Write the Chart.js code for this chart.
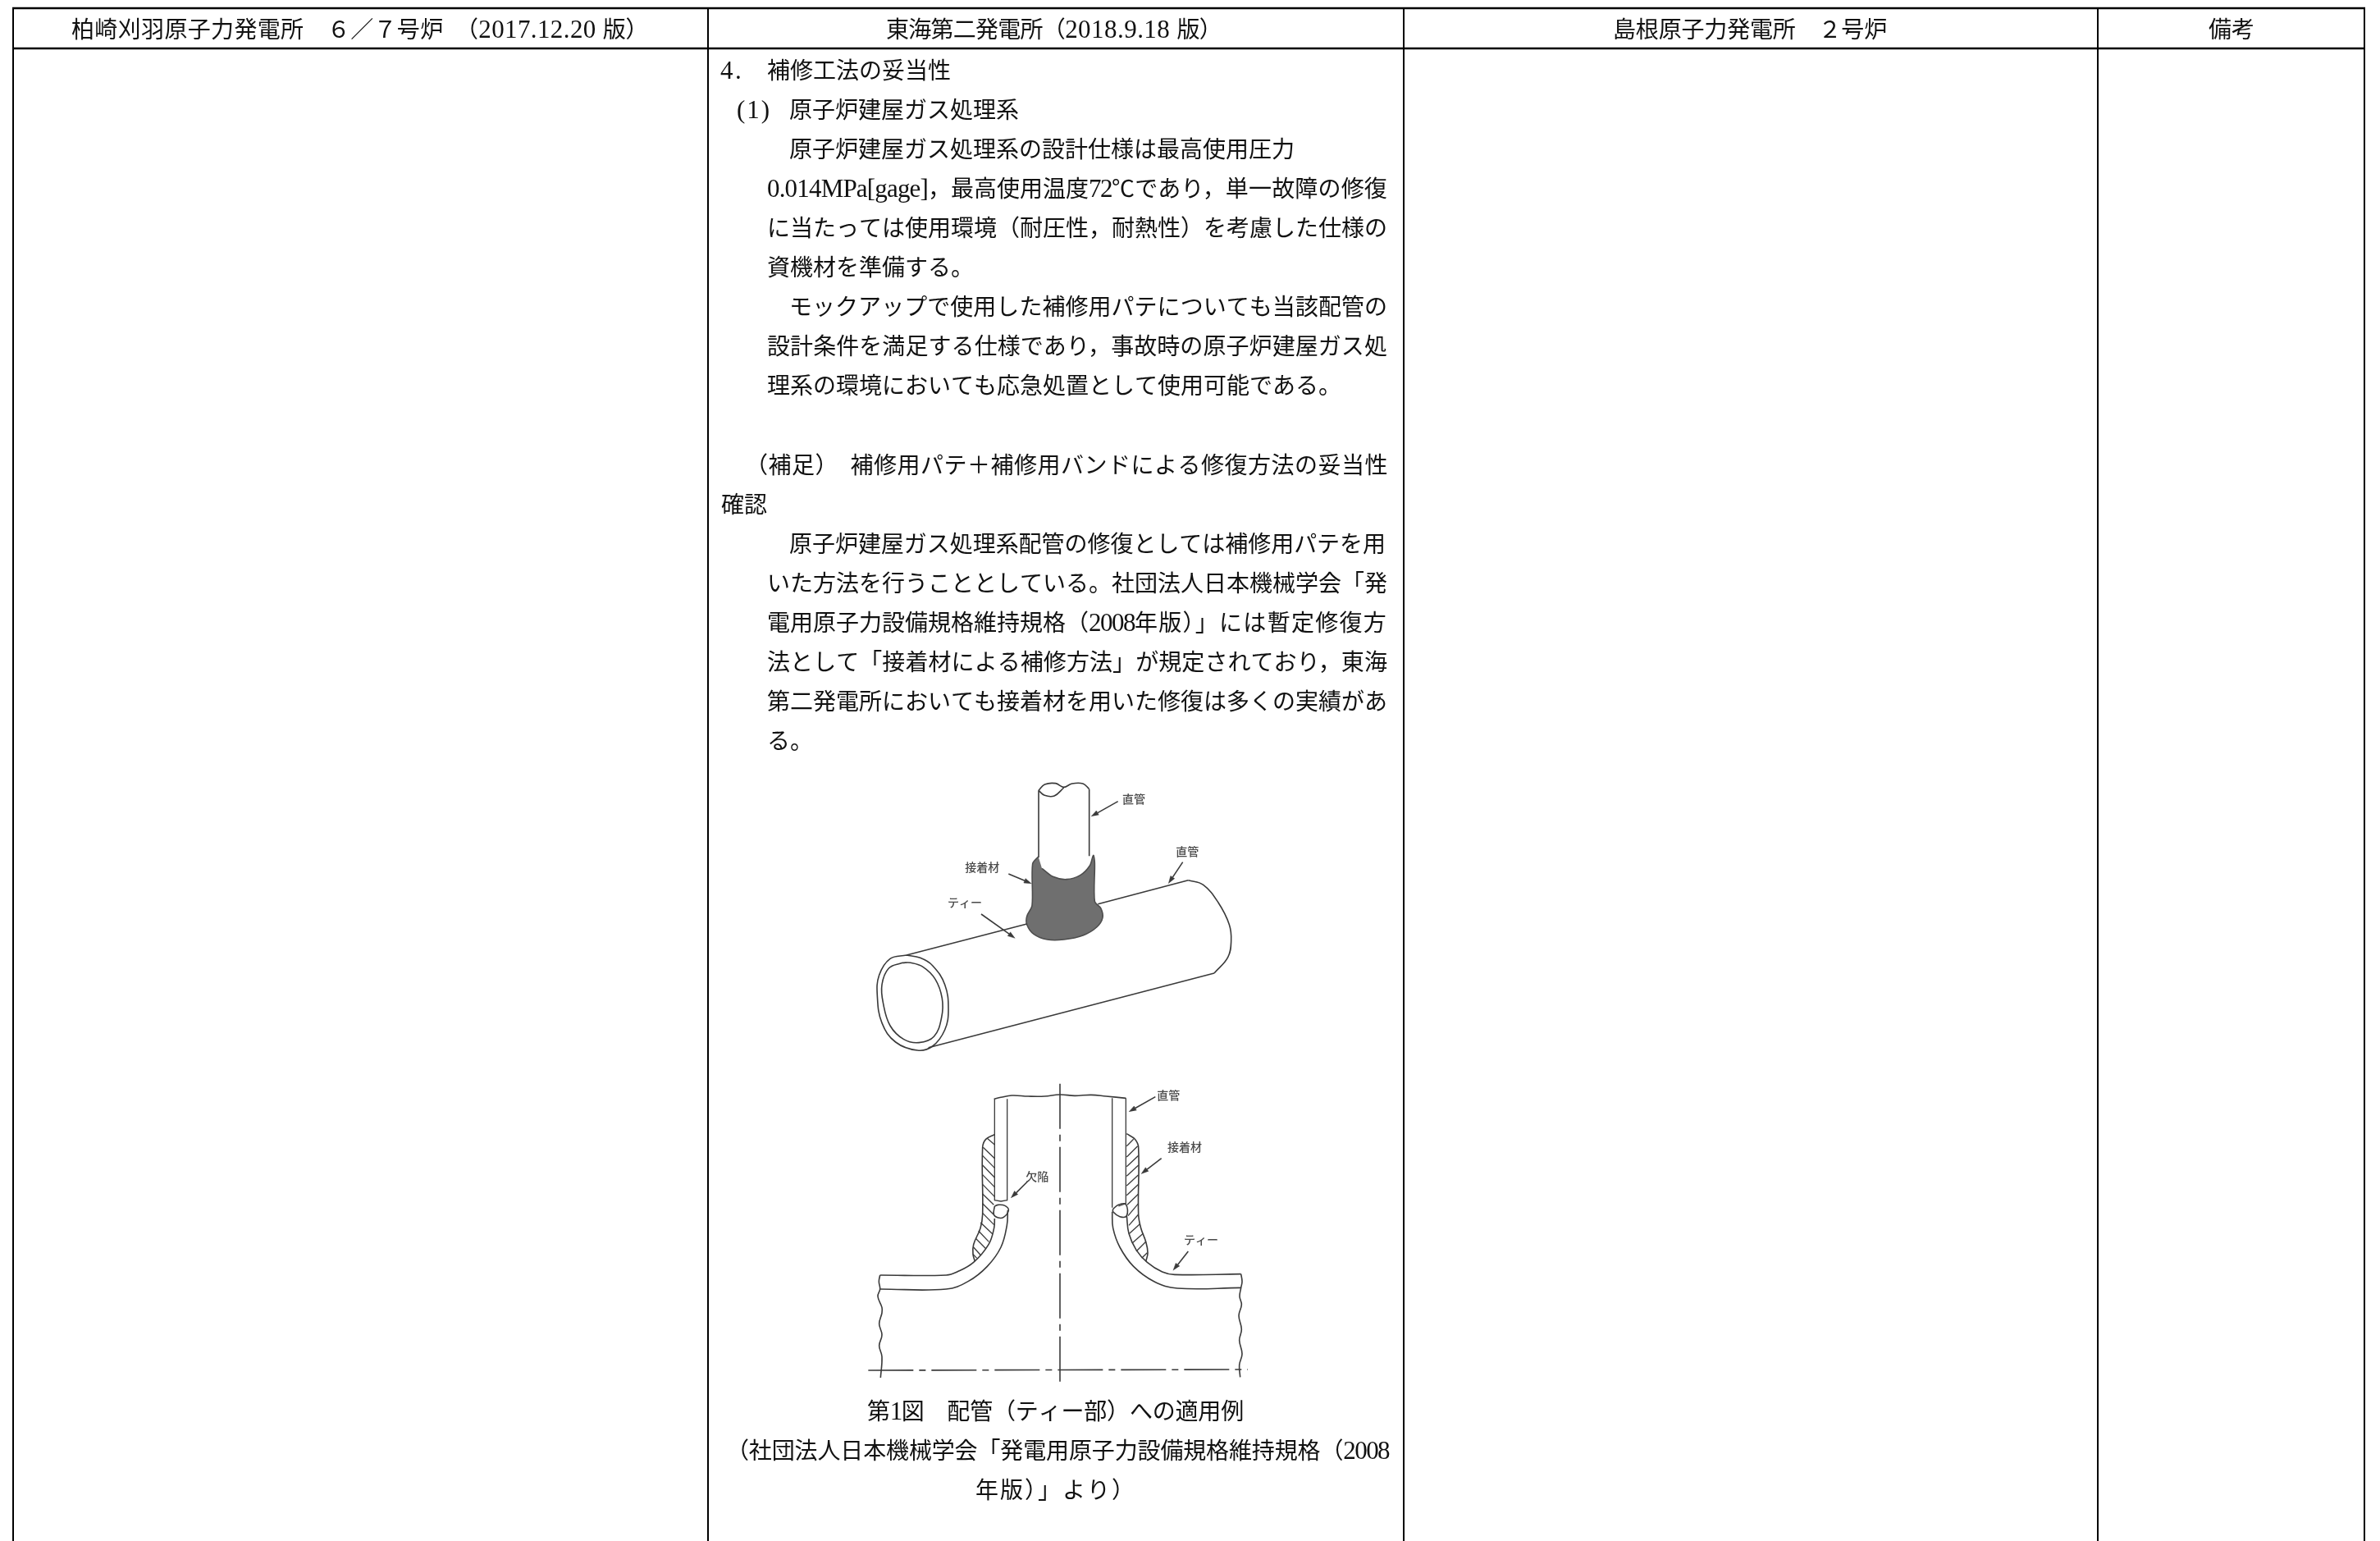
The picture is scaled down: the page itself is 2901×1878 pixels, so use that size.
<!DOCTYPE html>
<html lang="ja">
<head>
    <meta charset="UTF-8">
    <title>Chart</title>
    <style>
        html, body { margin: 0; background: #fff; }
        canvas { display: block; }
    </style>
</head>
<body>
    <canvas id="myChart" width="2901" height="1878"></canvas>

    <script src="https://cdn.jsdelivr.net/npm/chart.js@4"></script>
    <script>
        // table
        let headerLabels = ['柏崎刈羽原子力発電所　６／７号炉　（2017.12.20 版）', '東海第二発電所（2018.9.18 版）', '島根原子力発電所　２号炉', '備考'];
        let headerFrom = [87, 1080, 1966, 2692];
        let headerTo = [790, 1489, 2300, 2748];
        let columnEdges = [16, 863, 1711, 2557, 2882];
        let ruleRows = [10, 59];

        // body text: string, line number, left edge, right edge when the line is justified
        let bodyText = ['4.', '補修工法の妥当性', '(1)', '原子炉建屋ガス処理系',
            '原子炉建屋ガス処理系の設計仕様は最高使用圧力',
            '0.014MPa[gage]，最高使用温度72℃であり，単一故障の修復',
            'に当たっては使用環境（耐圧性，耐熱性）を考慮した仕様の',
            '資機材を準備する。',
            'モックアップで使用した補修用パテについても当該配管の',
            '設計条件を満足する仕様であり，事故時の原子炉建屋ガス処',
            '理系の環境においても応急処置として使用可能である。',
            '（補足）　補修用パテ＋補修用バンドによる修復方法の妥当性',
            '確認',
            '原子炉建屋ガス処理系配管の修復としては補修用パテを用',
            'いた方法を行うこととしている。社団法人日本機械学会「発',
            '電用原子力設備規格維持規格（2008年版）」には暫定修復方',
            '法として「接着材による補修方法」が規定されており，東海',
            '第二発電所においても接着材を用いた修復は多くの実績があ',
            'る。'];
        let bodyRow = [0, 0, 1, 1, 2, 3, 4, 5, 6, 7, 8, 10, 11, 12, 13, 14, 15, 16, 17];
        let bodyFrom = [878, 935, 898, 962, 962, 935, 935, 935, 962, 935, 935, 908, 879, 962, 935, 935, 935, 935, 935];
        let bodyTo = [0, 0, 0, 0, 0, 1691, 1691, 0, 1691, 1691, 0, 1692, 0, 1689, 1691, 1691, 1691, 1691, 0];

        let captionText = ['第1図　配管（ティー部）への適用例', '（社団法人日本機械学会「発電用原子力設備規格維持規格（2008', '年版）」より）'];
        let captionFrom = [1057, 885, 1189];
        let captionTo = [1516, 1693, 0];
        let captionY = [1721, 1769, 1817];

        let pipeLeft = [[738, 100], [738, 345]];
        let pipeRight = [[923, 95], [923, 340]];
        let pipeTop = [[738, 100], [760, 78], [800, 74], [830, 88], [860, 75], [900, 75], [923, 95]];
        let pipeTopFront = [[738, 100], [760, 118], [795, 120], [830, 90]];
        let adhesive = [[737, 342], [716, 368], [714, 520], [695, 560], [695, 590], [720, 625], [770, 645], [830, 645], [900, 630], [950, 600], [972, 565], [965, 530], [943, 505], [943, 365], [938, 337], [925, 375], [890, 410], [840, 425], [790, 415], [750, 385]];
        let teeTopLeft = [[255, 702], [695, 588]];
        let teeTopRight = [[955, 515], [1285, 428]];
        let teeEnd = [[1285, 428], [1340, 445], [1395, 510], [1435, 590], [1442, 650], [1430, 710], [1380, 768]];
        let teeBottom = [[1380, 768], [335, 1040]];
        let ringOuter = [[255, 702], [195, 715], [155, 775], [148, 850], [165, 950], [215, 1020], [295, 1050], [350, 1035], [395, 975], [408, 900], [395, 810], [350, 740], [305, 712], [255, 702]];
        let ringInner = [[240, 730], [190, 750], [165, 810], [170, 880], [195, 960], [245, 1010], [300, 1022], [355, 1000], [383, 930], [385, 860], [360, 790], [315, 745], [270, 730], [240, 730]];
        let upperArrows = [[[1028, 140], [930, 195]], [[1265, 362], [1213, 440]], [[628, 405], [712, 440]], [[528, 552], [652, 640]]];
        let upperLabels = ['直管', '直管', '接着材', 'ティー'];
        let upperLabelAt = [[1086, 132], [1282, 322], [532, 380], [468, 508]];

        // lower drawing, same kind of crop with its corner at 1020,1300
        let stubTop = [[575, 118], [600, 112], [640, 105], [700, 108], [760, 108], [815, 102], [870, 106], [930, 103], [985, 108], [1057, 115]];
        let wallsLeft = [[[577, 118], [577, 490]], [[623, 118], [623, 490]], [[577, 488], [600, 492], [623, 488]]];
        let wallsRight = [[[1007, 115], [1007, 515]], [[1057, 115], [1057, 500]], [[1057, 500], [1030, 510]]];
        let weldLeft = [[577, 510], [590, 505], [615, 508], [628, 525], [610, 550], [590, 552], [574, 540], [577, 510]];
        let weldRight = [[1010, 520], [1030, 505], [1057, 503], [1060, 545], [1035, 548], [1010, 530], [1010, 520]];
        let bendLeftUpper = [[577, 555], [575, 590], [555, 650], [500, 715], [440, 750], [400, 762], [158, 762]];
        let bendLeftLower = [[625, 525], [622, 580], [600, 660], [550, 730], [480, 785], [400, 813], [158, 813]];
        let endLeft = [[158, 762], [154, 785], [158, 813], [150, 840], [165, 880], [165, 900], [155, 940], [165, 980], [155, 1020], [165, 1060], [160, 1137]];
        let bendRightUpper = [[1060, 545], [1068, 610], [1095, 670], [1135, 715], [1190, 750], [1235, 760], [1478, 758]];
        let bendRightLower = [[1007, 530], [1010, 590], [1035, 660], [1085, 730], [1160, 785], [1245, 810], [1478, 808]];
        let endRight = [[1478, 758], [1482, 785], [1478, 808], [1473, 840], [1480, 870], [1470, 910], [1480, 960], [1472, 1000], [1482, 1050], [1472, 1090], [1475, 1135]];
        let adhesiveLeft = [[577, 248], [545, 265], [533, 295], [533, 540], [525, 590], [500, 650], [498, 685], [505, 712]];
        let adhesiveRight = [[1060, 245], [1090, 265], [1103, 295], [1103, 540], [1112, 590], [1130, 640], [1137, 680], [1130, 712]];
        let hatchLeft = [[[550, 262], [577, 285]], [[535, 295], [577, 335]], [[533, 325], [577, 370]], [[533, 360], [577, 405]], [[533, 395], [577, 440]], [[533, 430], [577, 475]], [[533, 465], [574, 505]], [[533, 500], [573, 540]], [[533, 535], [575, 578]], [[526, 570], [570, 612]], [[518, 600], [556, 640]], [[508, 628], [545, 665]], [[500, 660], [527, 690]], [[498, 685], [512, 700]]];
        let hatchRight = [[[1060, 290], [1085, 265]], [[1060, 330], [1100, 290]], [[1060, 365], [1103, 325]], [[1060, 400], [1103, 360]], [[1060, 435], [1103, 395]], [[1060, 470], [1103, 430]], [[1062, 505], [1103, 465]], [[1065, 545], [1103, 500]], [[1068, 580], [1103, 540]], [[1070, 610], [1108, 575]], [[1080, 645], [1120, 610]], [[1095, 675], [1130, 640]], [[1115, 700], [1135, 680]]];
        let centerLines = [[[816, 62], [816, 1155]], [[115, 1110], [1503, 1107]]];
        let lowerArrows = [[[1165, 110], [1068, 165]], [[1187, 335], [1113, 392]], [[697, 420], [637, 480]], [[1285, 675], [1230, 745]]];
        let lowerLabels = ['直管', '接着材', '欠陥', 'ティー'];
        let lowerLabelAt = [[1213, 103], [1272, 293], [733, 400], [1332, 632]];

        const upperCorner = [1020, 930];
        const lowerCorner = [1020, 1300];
        const wideFont = '28px "Noto Sans CJK JP"';
        const narrowFont = '31px "Liberation Serif"';
        const labelFont = '500 14px "Noto Sans CJK JP"';
        const inkColor = '#3a3a3a';

        function toPage(points, corner) {
            return points.map((p) => ({x: p[0] / 3 + corner[0], y: p[1] / 3 + corner[1]}));
        }

        function stroke(points, corner, opts) {
            return Object.assign({
                data: toPage(points, corner),
                showLine: true,
                pointRadius: 0,
                borderColor: inkColor,
                borderWidth: 1.6,
                tension: 0
            }, opts || {});
        }

        function curve(points, corner) {
            return stroke(points, corner, {tension: 0.4});
        }

        // a shaft and a narrow filled head, both drawn as line datasets
        function arrow(a, corner) {
            let tail = a[0], head = a[1];
            let dx = head[0] - tail[0], dy = head[1] - tail[1];
            let len = Math.sqrt(dx * dx + dy * dy);
            dx /= len; dy /= len;
            let back = [head[0] - dx * 27, head[1] - dy * 27];
            let tip = [
                head,
                [back[0] - dy * 9, back[1] + dx * 9],
                [back[0] + dy * 9, back[1] - dx * 9]
            ];
            return [
                stroke([tail, back], corner),
                stroke(tip, corner, {fill: 'shape', backgroundColor: inkColor, borderWidth: 0.5})
            ];
        }

        let datasets = [];

        // table rules
        ruleRows.forEach((y) => {
            datasets.push({data: [{x: columnEdges[0] - 1, y: y}, {x: columnEdges[4] + 1, y: y}], showLine: true, pointRadius: 0, borderColor: '#000', borderWidth: 2.4});
        });
        columnEdges.forEach((x) => {
            datasets.push({data: [{x: x, y: 9}, {x: x, y: 1878}], showLine: true, pointRadius: 0, borderColor: '#000', borderWidth: 2});
        });

        // upper drawing
        [pipeLeft, pipeRight, teeTopLeft, teeTopRight, teeBottom].forEach((p) => datasets.push(stroke(p, upperCorner)));
        [pipeTop, pipeTopFront, teeEnd, ringOuter, ringInner].forEach((p) => datasets.push(curve(p, upperCorner)));
        upperArrows.forEach((a) => datasets.push(...arrow(a, upperCorner)));
        datasets.push(stroke(adhesive, upperCorner, {fill: 'shape', tension: 0.3, backgroundColor: '#6f6f6f', borderColor: '#4d4d4d'}));

        // lower drawing
        [wallsLeft, wallsRight, hatchLeft, hatchRight].forEach((group) => {
            group.forEach((p) => datasets.push(stroke(p, lowerCorner, {borderWidth: 1.3})));
        });
        [stubTop, weldLeft, weldRight, bendLeftUpper, bendLeftLower, endLeft, bendRightUpper, bendRightLower, endRight, adhesiveLeft, adhesiveRight].forEach((p) => datasets.push(curve(p, lowerCorner)));
        centerLines.forEach((p) => datasets.push(stroke(p, lowerCorner, {borderDash: [55, 7, 8, 7]})));
        lowerArrows.forEach((a) => datasets.push(...arrow(a, lowerCorner)));

        // split a line into latin and full width runs, latin takes half a cell per character
        function splitRuns(text) {
            let runs = [];
            Array.from(text).forEach((ch) => {
                let narrow = ch >= ' ' && ch <= '~';
                let last = runs[runs.length - 1];
                if (last && last.narrow === narrow) {
                    last.text += ch;
                    last.count += 1;
                } else {
                    runs.push({text: ch, narrow: narrow, count: 1});
                }
            });
            return runs;
        }

        // the library has no free text mark, so the lines are placed through the scales here
        let pageText = {
            id: 'pageText',
            afterDatasetsDraw(chart) {
                let ctx = chart.ctx, xs = chart.scales.x, ys = chart.scales.y;

                function putLine(text, x, y, to) {
                    let runs = splitRuns(text);
                    let cells = 0;
                    runs.forEach((r) => { cells += r.narrow ? r.count / 2 : r.count; });
                    let px = xs.getPixelForValue(x);
                    let cell = to ? (xs.getPixelForValue(to) - px) / cells : 28;
                    let py = ys.getPixelForValue(y + 9);
                    runs.forEach((r) => {
                        let width = (r.narrow ? r.count / 2 : r.count) * cell;
                        ctx.font = r.narrow ? narrowFont : wideFont;
                        ctx.letterSpacing = '0px';
                        let gap = (width - ctx.measureText(r.text).width) / r.count;
                        ctx.letterSpacing = gap + 'px';
                        ctx.fillText(r.text, px, py);
                        px += width;
                    });
                    ctx.letterSpacing = '0px';
                }

                function putLabel(text, at, corner) {
                    let p = toPage([at], corner)[0];
                    ctx.fillText(text, xs.getPixelForValue(p.x), ys.getPixelForValue(p.y));
                }

                ctx.save();
                ctx.textAlign = 'left';
                ctx.textBaseline = 'alphabetic';
                ctx.fillStyle = '#111';
                headerLabels.forEach((t, i) => putLine(t, headerFrom[i], 37, headerTo[i]));
                bodyText.forEach((t, i) => putLine(t, bodyFrom[i], 87 + bodyRow[i] * 48.05, bodyTo[i]));
                captionText.forEach((t, i) => putLine(t, captionFrom[i], captionY[i], captionTo[i]));

                ctx.textAlign = 'center';
                ctx.textBaseline = 'middle';
                ctx.font = labelFont;
                ctx.fillStyle = '#4a4a4a';
                upperLabels.forEach((t, i) => putLabel(t, upperLabelAt[i], upperCorner));
                lowerLabels.forEach((t, i) => putLabel(t, lowerLabelAt[i], lowerCorner));
                ctx.restore();
            }
        };

        let ctx = document.getElementById('myChart').getContext('2d');
        let myChart = new Chart(ctx, {
            type: 'scatter',
            data: {datasets: datasets},
            plugins: [pageText],
            options: {
                responsive: false,
                animation: false,
                events: [],
                layout: {padding: 0},
                plugins: {legend: {display: false}, tooltip: {enabled: false}},
                scales: {
                    x: {type: 'linear', min: 0, max: 2901, display: false},
                    y: {type: 'linear', min: 0, max: 1878, reverse: true, display: false}
                }
            }
        });
    </script>
</body>
</html>
